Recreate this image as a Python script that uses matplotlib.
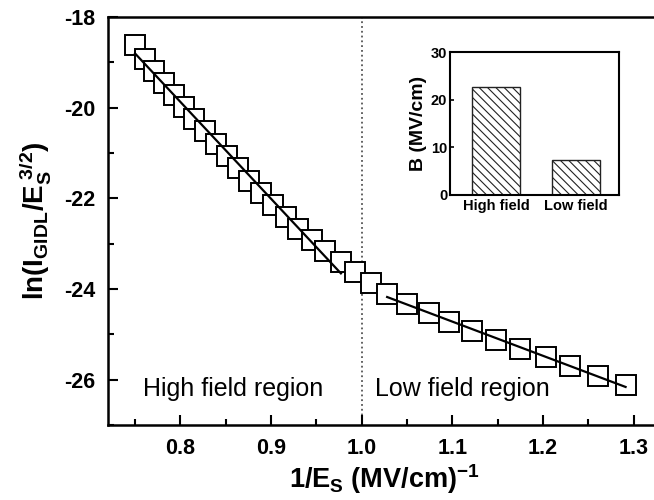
import numpy as np
import matplotlib
matplotlib.use("Agg")
import matplotlib.pyplot as plt

plt.rcParams['font.family'] = ['Liberation Sans', 'DejaVu Sans']
plt.rcParams['mathtext.fontset'] = 'custom'
plt.rcParams['mathtext.rm'] = 'Liberation Sans'
plt.rcParams['mathtext.bf'] = 'Liberation Sans:bold'
plt.rcParams['mathtext.it'] = 'Liberation Sans:italic'
plt.rcParams['axes.unicode_minus'] = False
plt.rcParams['hatch.linewidth'] = 0.8

# high field region data (1/Es, ln(I/Es^1.5))
x_high = [0.750, 0.761, 0.771, 0.782, 0.793, 0.804, 0.815, 0.827, 0.839, 0.851,
          0.863, 0.876, 0.889, 0.902, 0.916, 0.930, 0.945, 0.960, 0.977]
y_high = [-18.62, -18.92, -19.19, -19.46, -19.72, -19.98, -20.24, -20.52, -20.80, -21.07,
          -21.33, -21.61, -21.88, -22.14, -22.41, -22.67, -22.93, -23.17, -23.40]
# low field region data
x_low = [0.993, 1.010, 1.028, 1.050, 1.074, 1.096, 1.122, 1.148, 1.175, 1.203,
         1.230, 1.261, 1.291]
y_low = [-23.62, -23.87, -24.10, -24.33, -24.53, -24.72, -24.92, -25.13, -25.32, -25.50,
         -25.70, -25.91, -26.12]

# inset: B values
regions = ["High field", "Low field"]
b_vals = [22.7, 7.3]

fig = plt.figure(figsize=(6.54, 5.0), dpi=100)
ax = fig.add_axes([0.165, 0.15, 0.8456, 0.816])

x_all = x_high + x_low
y_all = y_high + y_low
ax.plot(x_all, y_all, linestyle='none', marker='s', markersize=14.5,
        markerfacecolor='white', markeredgecolor='black', markeredgewidth=1.4, zorder=2)

# linear fits in each region
p_hi = np.polyfit(x_high, y_high, 1)
p_lo = np.polyfit(x_low[2:], y_low[2:], 1)
xh = np.array([x_high[0], x_high[-1]])
xl = np.array([x_low[2], x_low[-1]])
ax.plot(xh, np.polyval(p_hi, xh), color='black', lw=1.6, zorder=3)
ax.plot(xl, np.polyval(p_lo, xl), color='black', lw=1.6, zorder=3)

ax.axvline(1.0, color='#555555', linestyle=':', lw=1.3, zorder=1)

ax.text(0.759, -26.2, "High field region", fontsize=18, va='center', ha='left')
ax.text(1.015, -26.2, "Low field region", fontsize=18, va='center', ha='left')

ax.set_xlim(0.72, 1.33)
ax.set_ylim(-27, -18)
ax.set_xticks([0.8, 0.9, 1.0, 1.1, 1.2, 1.3])
ax.set_xticks([0.75, 0.85, 0.95, 1.05, 1.15, 1.25], minor=True)
ax.set_yticks([-26, -24, -22, -20, -18])
ax.set_yticks([-27, -25, -23, -21, -19], minor=True)
ax.tick_params(which='both', direction='in', width=1.5, labelsize=15.5)
ax.tick_params(which='major', length=7)
ax.tick_params(which='minor', length=4)
ax.tick_params(axis='x', pad=9)
ax.tick_params(axis='y', pad=9)
for lab in ax.get_xticklabels() + ax.get_yticklabels():
    lab.set_fontweight('bold')
for s in ax.spines.values():
    s.set_linewidth(1.8)

ax.set_xlabel(r'$\mathbf{1/E_S\ (MV/cm)^{-1}}$', fontsize=19.5, labelpad=3)
ax.set_ylabel(r'$\mathbf{ln(I_{GIDL}/E_S^{\ 3/2})}$', fontsize=20, labelpad=8)

# inset bar chart
ins = fig.add_axes([0.688, 0.61, 0.258, 0.286])
ins.bar([0, 1], b_vals, width=0.6, color='white', edgecolor='#222222',
        hatch='\\\\\\\\', linewidth=1.0)
ins.set_xlim(-0.58, 1.54)
ins.set_ylim(0, 30)
ins.set_xticks([0, 1])
ins.set_xticklabels(regions, fontsize=10.5, fontweight='bold')
ins.set_yticks([0, 10, 20, 30])
ins.set_yticklabels(['0', '10', '20', '30'], fontsize=10.5, fontweight='bold')
ins.tick_params(axis='x', length=0, pad=3)
ins.tick_params(axis='y', direction='in', length=3, width=1.2, pad=2)
ins.set_ylabel('B (MV/cm)', fontsize=14, fontweight='bold', labelpad=3)
for s in ins.spines.values():
    s.set_linewidth(1.5)

fig.savefig('out.png', dpi=100)
